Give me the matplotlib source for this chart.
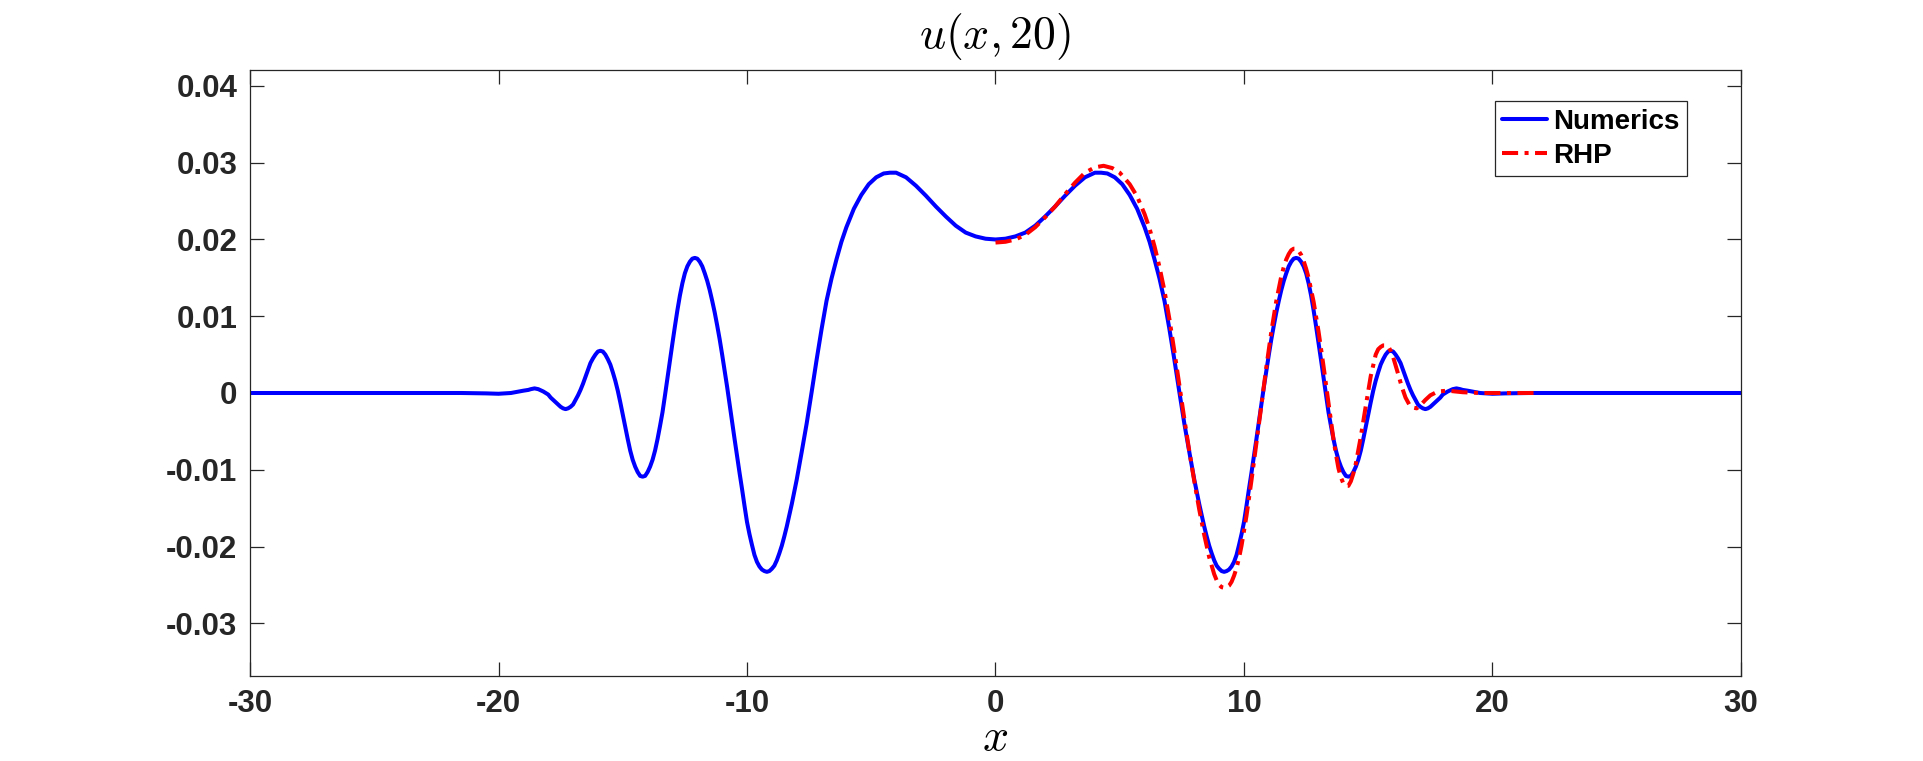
import matplotlib
matplotlib.use("Agg")
import matplotlib.pyplot as plt

# ---------------- data ----------------
num_x = [-30, -24, -21.5, -20.5, -20.0, -19.5, -19.0, -18.8, -18.7, -18.55, -18.4, -18.2,
         -18.0, -17.9, -17.8, -17.7, -17.6, -17.5, -17.4, -17.3, -17.2, -17.1, -17.0,
         -16.9, -16.8, -16.7, -16.6, -16.5, -16.4, -16.3, -16.2, -16.1, -16.0, -15.9,
         -15.8, -15.7, -15.6, -15.5, -15.4, -15.3, -15.2, -15.1, -15.0, -14.9, -14.8,
         -14.7, -14.6, -14.5, -14.4, -14.3, -14.2, -14.1, -14.0, -13.9, -13.8, -13.7,
         -13.6, -13.5, -13.4, -13.3, -13.2, -13.1, -13.0, -12.9, -12.8, -12.7, -12.6,
         -12.5, -12.4, -12.3, -12.2, -12.1, -12.0, -11.9, -11.8, -11.7, -11.6, -11.5,
         -11.4, -11.3, -11.2, -11.1, -11.0, -10.9, -10.8, -10.7, -10.6, -10.5, -10.4,
         -10.3, -10.2, -10.1, -10.0, -9.9, -9.8, -9.7, -9.6, -9.5, -9.4, -9.3, -9.2,
         -9.1, -9.0, -8.9, -8.8, -8.7, -8.6, -8.5, -8.4, -8.2, -8.0, -7.8, -7.6, -7.4,
         -7.2, -7.0, -6.8, -6.6, -6.4, -6.2, -6.0, -5.7, -5.4, -5.1, -4.8, -4.5, -4.25,
         -4.0, -3.6, -3.2, -2.8, -2.4, -2.0, -1.6, -1.2, -0.8, -0.4, 0.0,
         0.4, 0.8, 1.2, 1.6, 2.0, 2.4, 2.8, 3.2, 3.6, 4.0, 4.25, 4.5, 4.8, 5.1, 5.4,
         5.7, 6.0, 6.2, 6.4, 6.6, 6.8, 7.0, 7.2, 7.4, 7.6, 7.8, 8.0, 8.2, 8.4, 8.5,
         8.6, 8.7, 8.8, 8.9, 9.0, 9.1, 9.2, 9.3, 9.4, 9.5, 9.6, 9.7, 9.8, 9.9, 10.0,
         10.1, 10.2, 10.3, 10.4, 10.5, 10.6, 10.7, 10.8, 10.9, 11.0, 11.1, 11.2, 11.3,
         11.4, 11.5, 11.6, 11.7, 11.8, 11.9, 12.0, 12.1, 12.2, 12.3, 12.4, 12.5, 12.6,
         12.7, 12.8, 12.9, 13.0, 13.1, 13.2, 13.3, 13.4, 13.5, 13.6, 13.7, 13.8, 13.9,
         14.0, 14.1, 14.2, 14.3, 14.4, 14.5, 14.6, 14.7, 14.8, 14.9, 15.0, 15.1, 15.2,
         15.3, 15.4, 15.5, 15.6, 15.7, 15.8, 15.9, 16.0, 16.1, 16.2, 16.3, 16.4, 16.5,
         16.6, 16.7, 16.8, 16.9, 17.0, 17.1, 17.2, 17.3, 17.4, 17.5, 17.6, 17.7, 17.8,
         17.9, 18.0, 18.2, 18.4, 18.55, 18.7, 18.8, 19.0, 19.5, 20.0, 20.5, 21.5, 24, 30]
num_u = [0.0, 0.0, 0.0, -0.00005, -0.0001, 0.0, 0.0003, 0.0004, 0.0005, 0.0006, 0.0005,
         0.0002, -0.0002, -0.0006, -0.0009, -0.0012, -0.0015, -0.0018, -0.0020, -0.0021,
         -0.0020, -0.0018, -0.0015, -0.0009, -0.0003, 0.0004, 0.0012, 0.0021, 0.0030,
         0.0039, 0.0045, 0.0050, 0.0054, 0.0055, 0.0054, 0.0050, 0.0044, 0.0037, 0.0027,
         0.0016, 0.0003, -0.0012, -0.0028, -0.0044, -0.0060, -0.0075, -0.0087, -0.0096,
         -0.0103, -0.0108, -0.0109, -0.0108, -0.0103, -0.0096, -0.0087, -0.0075, -0.0060,
         -0.0043, -0.0025, -0.0003, 0.0020, 0.0043, 0.0065, 0.0087, 0.0108, 0.0127,
         0.0143, 0.0156, 0.0165, 0.0171, 0.0175, 0.0176, 0.0175, 0.0171, 0.0165, 0.0156,
         0.0146, 0.0134, 0.0120, 0.0105, 0.0088, 0.0070, 0.0050, 0.0029, 0.0008, -0.0015,
         -0.0037, -0.0060, -0.0082, -0.0104, -0.0125, -0.0147, -0.0168, -0.0184, -0.0198,
         -0.0211, -0.0220, -0.0226, -0.0230, -0.0232, -0.0233, -0.0232, -0.0229, -0.0225,
         -0.0218, -0.0209, -0.0199, -0.0187, -0.0174, -0.0145, -0.0113, -0.0077, -0.0040,
         0.0001, 0.0043, 0.0083, 0.0120, 0.0149, 0.0174, 0.0197, 0.0216, 0.0240, 0.0258,
         0.0272, 0.0281, 0.0286, 0.0287, 0.0287, 0.0281, 0.0270, 0.0257, 0.0243, 0.0230,
         0.0218, 0.0209, 0.0204, 0.0201, 0.0200,
         0.0201, 0.0204, 0.0209, 0.0218, 0.0230, 0.0243, 0.0257, 0.0270, 0.0281, 0.0287,
         0.0287, 0.0286, 0.0281, 0.0272, 0.0258, 0.0240, 0.0216, 0.0197, 0.0174, 0.0149,
         0.0120, 0.0083, 0.0043, 0.0001, -0.0040, -0.0077, -0.0113, -0.0145, -0.0174,
         -0.0187, -0.0199, -0.0209, -0.0218, -0.0225, -0.0229, -0.0232, -0.0233, -0.0232,
         -0.0230, -0.0226, -0.0220, -0.0211, -0.0198, -0.0184, -0.0168, -0.0147, -0.0125,
         -0.0104, -0.0082, -0.0060, -0.0037, -0.0015, 0.0008, 0.0029, 0.0050, 0.0070,
         0.0088, 0.0105, 0.0120, 0.0134, 0.0146, 0.0156, 0.0165, 0.0171, 0.0175, 0.0176,
         0.0175, 0.0171, 0.0165, 0.0156, 0.0143, 0.0127, 0.0108, 0.0087, 0.0065, 0.0043,
         0.0020, -0.0003, -0.0025, -0.0043, -0.0060, -0.0075, -0.0087, -0.0096, -0.0103,
         -0.0108, -0.0109, -0.0108, -0.0103, -0.0096, -0.0087, -0.0075, -0.0060, -0.0044,
         -0.0028, -0.0012, 0.0003, 0.0016, 0.0027, 0.0037, 0.0044, 0.0050, 0.0054, 0.0055,
         0.0054, 0.0050, 0.0045, 0.0039, 0.0030, 0.0021, 0.0012, 0.0004, -0.0003, -0.0009,
         -0.0015, -0.0018, -0.0020, -0.0021, -0.0020, -0.0018, -0.0015, -0.0012, -0.0009,
         -0.0006, -0.0002, 0.0002, 0.0005, 0.0006, 0.0005, 0.0004, 0.0003, 0.0, -0.0001,
         -0.00005, 0.0, 0.0, 0.0]

rhp_x = [0.0, 0.4, 0.8, 1.2, 1.6, 2.0, 2.4, 2.8, 3.2, 3.6, 4.0, 4.35, 4.7, 5.0, 5.4, 5.7,
         6.0, 6.2, 6.4, 6.6, 6.8, 7.0, 7.2, 7.4, 7.6, 7.8, 8.0, 8.2, 8.4, 8.6, 8.8, 8.9,
         9.0, 9.1, 9.25, 9.4, 9.5, 9.6, 9.7, 9.8, 9.9, 10.1, 10.3, 10.5, 10.7, 10.9, 11.1,
         11.3, 11.5, 11.6, 11.7, 11.8, 11.9, 12.0, 12.1, 12.2, 12.3, 12.4, 12.5, 12.6,
         12.8, 13.0, 13.2, 13.4, 13.6, 13.7, 13.8, 13.9, 14.0, 14.1, 14.2, 14.3, 14.4,
         14.5, 14.7, 14.9, 15.1, 15.3, 15.4, 15.5, 15.6, 15.7, 15.8, 15.9, 16.0, 16.2,
         16.35, 16.5, 16.65, 16.8, 16.95, 17.1, 17.3, 17.5, 17.8, 18.2, 18.8, 19.5, 21.8]
rhp_u = [0.0196, 0.0197, 0.0200, 0.0206, 0.0216, 0.0229, 0.0243, 0.0259, 0.0274, 0.0287,
         0.0294, 0.0296, 0.0293, 0.0287, 0.0272, 0.0256, 0.0233, 0.0214, 0.0191, 0.0164,
         0.0133, 0.0096, 0.0054, 0.0010, -0.0034, -0.0076, -0.0115, -0.0152, -0.0185,
         -0.0214, -0.0236, -0.0244, -0.0250, -0.0253, -0.0254, -0.0251, -0.0246, -0.0238,
         -0.0228, -0.0215, -0.0199, -0.0160, -0.0114, -0.0065, -0.0016, 0.0034, 0.0080,
         0.0120, 0.0152, 0.0164, 0.0174, 0.0181, 0.0186, 0.0188, 0.0188, 0.0185, 0.0180,
         0.0172, 0.0162, 0.0150, 0.0119, 0.0080, 0.0035, -0.0013, -0.0060, -0.0080,
         -0.0098, -0.0110, -0.0118, -0.0121, -0.0121, -0.0115, -0.0105, -0.0092, -0.0057,
         -0.0017, 0.0022, 0.0050, 0.0057, 0.0060, 0.0062, 0.0062, 0.0061, 0.0055, 0.0047,
         0.0025, 0.0008, -0.0006, -0.0015, -0.0019, -0.0020, -0.0016, -0.0009, -0.0003,
         0.0002, 0.0003, 0.0001, 0.0, 0.0]

x_ticks = [-30, -20, -10, 0, 10, 20, 30]
x_tick_labels = ["-30", "-20", "-10", "0", "10", "20", "30"]
y_ticks = [-0.03, -0.02, -0.01, 0.0, 0.01, 0.02, 0.03, 0.04]
y_tick_labels = ["-0.03", "-0.02", "-0.01", "0", "0.01", "0.02", "0.03", "0.04"]
series_labels = ["Numerics", "RHP"]
title_text = r"$u(x,20)$"
xlabel_text = r"$x$"

# ---------------- figure ----------------
plt.rcParams["mathtext.fontset"] = "cm"
plt.rcParams["font.family"] = ["Liberation Sans", "DejaVu Sans"]
plt.rcParams["axes.unicode_minus"] = False

W, H = 1924, 761
fig = plt.figure(figsize=(W / 100, H / 100), dpi=100)
ax = fig.add_axes([250 / W, 1 - 676 / H, 1491 / W, 606 / H])

ax.plot(num_x, num_u, color="#0000ff", lw=2.9, label=series_labels[0], zorder=2,
        solid_joinstyle="round", solid_capstyle="round")
ax.plot(rhp_x, rhp_u, color="#ff0000", lw=2.9, ls=(0, (4.0, 1.6, 1.0, 1.6)),
        label=series_labels[1], zorder=3, dash_joinstyle="round")

ax.set_xlim(-30, 30)
ax.set_ylim(-0.03687, 0.04208)
ax.set_xticks(x_ticks)
ax.set_xticklabels(x_tick_labels)
ax.set_yticks(y_ticks)
ax.set_yticklabels(y_tick_labels)

axc = "#262626"
for s in ax.spines.values():
    s.set_color(axc)
    s.set_linewidth(0.9)
ax.tick_params(direction="in", length=10, width=0.9, color=axc, top=True, right=True,
               labelsize=22.5, labelcolor=axc, pad=9)
for lab in ax.get_xticklabels() + ax.get_yticklabels():
    lab.set_fontweight("bold")

ax.set_title(title_text, fontsize=33, pad=16, color="black")
ax.set_xlabel(xlabel_text, fontsize=33, labelpad=-2, color="black")

leg = ax.legend(loc="upper right", bbox_to_anchor=(0.9638, 0.9488), borderaxespad=0,
                prop={"family": "Liberation Sans", "weight": "bold", "size": 20},
                handlelength=1.62, handletextpad=0.22, labelspacing=0.29,
                borderpad=0.27, fancybox=False, framealpha=1, edgecolor=axc)
leg.get_frame().set_linewidth(0.9)

fig.savefig("out.png", dpi=100)
